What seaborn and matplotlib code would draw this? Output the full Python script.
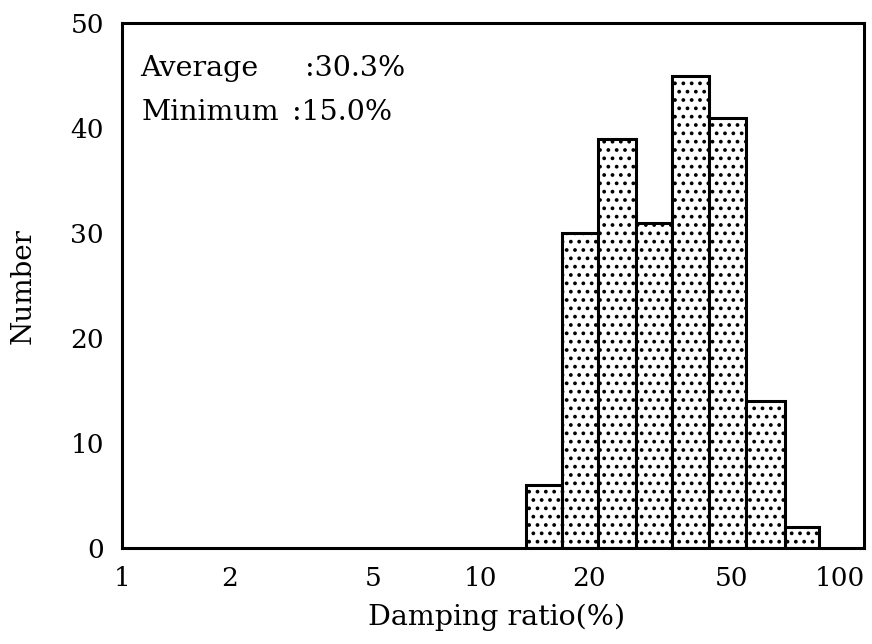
import numpy as np
import pandas as pd
import matplotlib
matplotlib.use("Agg")
import matplotlib.pyplot as plt
import seaborn as sns

# Histogram of damping ratios (log-spaced bins)
bin_edges = [13.4, 16.8, 21.2, 27.0, 34.2, 43.3, 54.8, 70.2, 87.5]
counts = [6, 30, 39, 31, 45, 41, 14, 2]
x_ticks = [1, 2, 5, 10, 20, 50, 100]
x_tick_labels = ["1", "2", "5", "10", "20", "50", "100"]
y_ticks = [0, 10, 20, 30, 40, 50]
average_pct = 30.3
minimum_pct = 15.0

edges = np.array(bin_edges)
centers = np.sqrt(edges[:-1] * edges[1:])
df = pd.DataFrame({"damping": centers, "count": counts})

sns.set_theme(style="white")
plt.rcParams["font.family"] = ["DejaVu Serif", "Liberation Serif"]
plt.rcParams["text.color"] = "black"
plt.rcParams["axes.labelcolor"] = "black"
plt.rcParams["hatch.linewidth"] = 1.5
plt.rcParams["hatch.color"] = "#4a4a4a"

fig = plt.figure(figsize=(8.72, 6.44), dpi=100)
ax = fig.add_axes([0.140, 0.149, 0.851, 0.815])

sns.histplot(
    data=df, x="damping", weights="count",
    bins=[float(v) for v in np.log10(edges)], log_scale=True,
    stat="count", element="bars",
    facecolor="white", edgecolor="black", linewidth=2.2,
    hatch="..", ax=ax,
)

ax.set_xlim(1, 117)
ax.set_ylim(0, 50)
ax.set_xticks(x_ticks)
ax.set_xticklabels(x_tick_labels)
ax.xaxis.set_minor_locator(matplotlib.ticker.NullLocator())
ax.set_yticks(y_ticks)

ax.tick_params(axis="both", direction="in", length=7, width=1.8,
               labelsize=19, colors="black", pad=13)
for s in ax.spines.values():
    s.set_visible(True)
    s.set_color("black")
    s.set_linewidth(2.2)

ax.set_xlabel("Damping ratio(%)", fontsize=20.5, color="black")
ax.set_ylabel("Number", fontsize=20, color="black")
ax.xaxis.set_label_coords(0.505, -0.106)
ax.yaxis.set_label_coords(-0.115, 0.5)

text_kw = dict(transform=ax.transAxes, fontsize=20.5, va="baseline",
               ha="left", color="black")
ax.text(0.024, 0.900, "Average", **text_kw)
ax.text(0.246, 0.900, f":{average_pct:.1f}%", **text_kw)
ax.text(0.027, 0.815, "Minimum", **text_kw)
ax.text(0.229, 0.815, f":{minimum_pct:.1f}%", **text_kw)

fig.savefig("out.png", dpi=100)
